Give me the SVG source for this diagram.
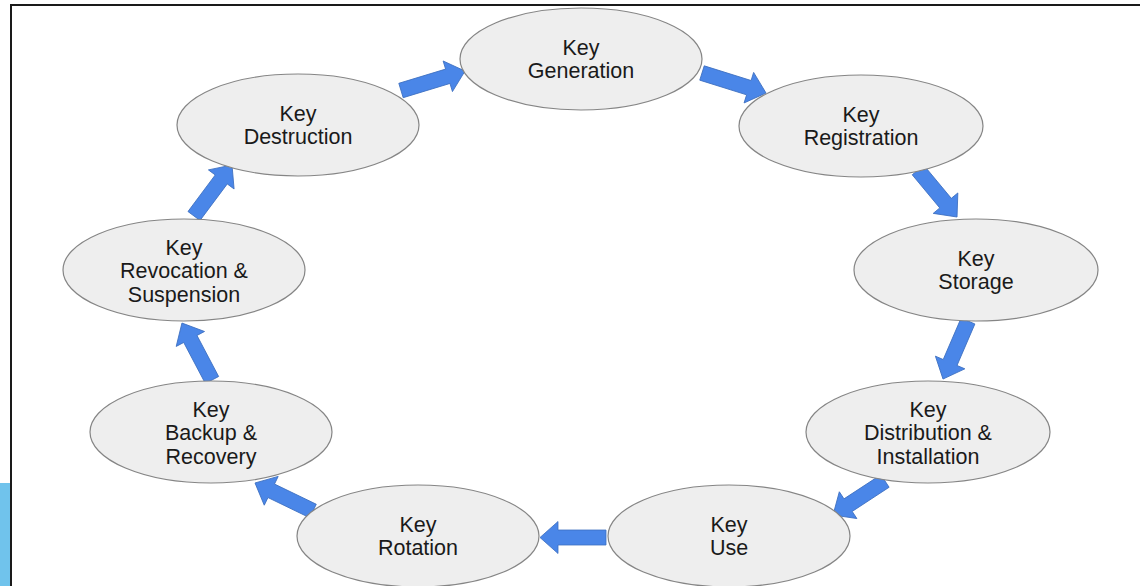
<svg xmlns="http://www.w3.org/2000/svg" width="1140" height="586" viewBox="0 0 1140 586">
<style>
.node ellipse{fill:#eeeeee;stroke:#858585;stroke-width:1.2}
.node text{font-family:"Liberation Sans",Arial,sans-serif;font-size:21.5px;fill:#1a1a1a;text-anchor:middle}
.arr{fill:#4a86e8;stroke:#3d6fc0;stroke-width:0.8;stroke-linejoin:miter}
</style>
<rect x="0" y="0" width="1140" height="586" fill="#ffffff"/>
<rect x="0" y="483" width="10" height="103" fill="#70c3ec"/>
<path d="M11,586 V5 H1140" fill="none" stroke="#1a1a1a" stroke-width="2"/>
<g id="connectors">
<polygon class="arr" transform="translate(401,90.5) rotate(-16.9)" points="0,-7.5 48.9,-7.5 48.9,-16 66.9,0 48.9,16 48.9,7.5 0,7.5"/>
<polygon class="arr" transform="translate(702,73) rotate(17.4)" points="0,-7.5 49.1,-7.5 49.1,-16 67.1,0 49.1,16 49.1,7.5 0,7.5"/>
<polygon class="arr" transform="translate(918,170) rotate(50.3)" points="0,-7.5 43.1,-7.5 43.1,-16 61.1,0 43.1,16 43.1,7.5 0,7.5"/>
<polygon class="arr" transform="translate(968,321) rotate(113.3)" points="0,-7.5 45.2,-7.5 45.2,-16 63.2,0 45.2,16 45.2,7.5 0,7.5"/>
<polygon class="arr" transform="translate(885,481) rotate(146.8)" points="0,-7.5 44.1,-7.5 44.1,-16 62.1,0 44.1,16 44.1,7.5 0,7.5"/>
<polygon class="arr" transform="translate(606,537.5) rotate(180)" points="0,-7.5 48,-7.5 48,-16 66,0 48,16 48,7.5 0,7.5"/>
<polygon class="arr" transform="translate(313,511) rotate(-154.2)" points="0,-7.5 46.4,-7.5 46.4,-16 64.4,0 46.4,16 46.4,7.5 0,7.5"/>
<polygon class="arr" transform="translate(212,380) rotate(-117.8)" points="0,-7.5 46.4,-7.5 46.4,-16 64.4,0 46.4,16 46.4,7.5 0,7.5"/>
<polygon class="arr" transform="translate(194,216) rotate(-53.3)" points="0,-7.5 45.6,-7.5 45.6,-16 63.6,0 45.6,16 45.6,7.5 0,7.5"/>
</g>
<g id="key-generation" class="node"><ellipse cx="581" cy="59" rx="121" ry="51"/><text x="581" y="54.5">Key</text><text x="581" y="78">Generation</text></g>
<g id="key-registration" class="node"><ellipse cx="861" cy="126" rx="122" ry="51"/><text x="861" y="121.5">Key</text><text x="861" y="145">Registration</text></g>
<g id="key-storage" class="node"><ellipse cx="976" cy="270" rx="122" ry="51"/><text x="976" y="265.5">Key</text><text x="976" y="289">Storage</text></g>
<g id="key-distribution" class="node"><ellipse cx="928" cy="432" rx="122" ry="51"/><text x="928" y="416.5">Key</text><text x="928" y="440">Distribution &amp;</text><text x="928" y="463.5">Installation</text></g>
<g id="key-use" class="node"><ellipse cx="729" cy="536" rx="121" ry="51"/><text x="729" y="531.5">Key</text><text x="729" y="555">Use</text></g>
<g id="key-rotation" class="node"><ellipse cx="418" cy="536" rx="121" ry="51"/><text x="418" y="531.5">Key</text><text x="418" y="555">Rotation</text></g>
<g id="key-backup" class="node"><ellipse cx="211" cy="432" rx="121" ry="51"/><text x="211" y="416.5">Key</text><text x="211" y="440">Backup &amp;</text><text x="211" y="463.5">Recovery</text></g>
<g id="key-revocation" class="node"><ellipse cx="184" cy="270" rx="121" ry="51"/><text x="184" y="254.5">Key</text><text x="184" y="278">Revocation &amp;</text><text x="184" y="301.5">Suspension</text></g>
<g id="key-destruction" class="node"><ellipse cx="298" cy="125" rx="121" ry="51"/><text x="298" y="120.5">Key</text><text x="298" y="144">Destruction</text></g>
</svg>
